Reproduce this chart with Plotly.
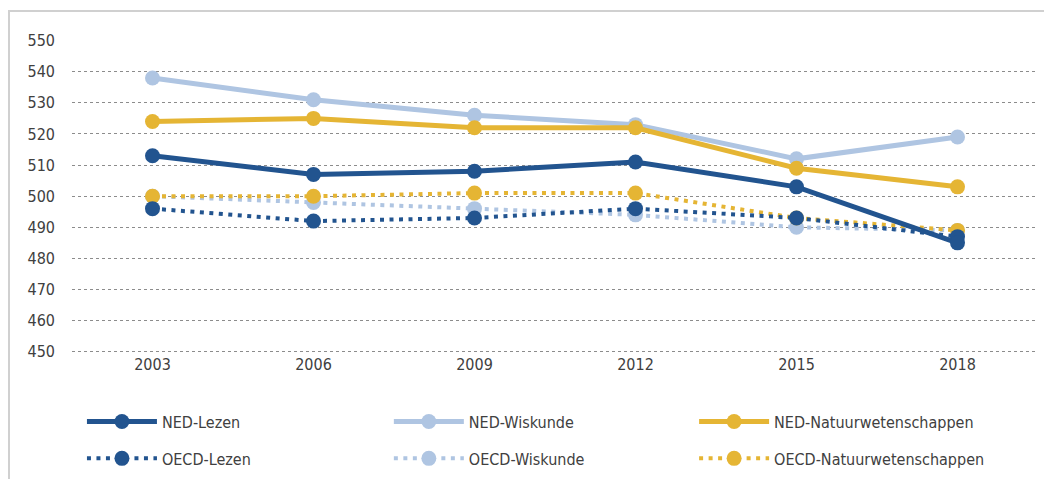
import plotly.graph_objects as go

years = ["2003", "2006", "2009", "2012", "2015", "2018"]
ned_lezen = [513, 507, 508, 511, 503, 485]
ned_wiskunde = [538, 531, 526, 523, 512, 519]
ned_natuur = [524, 525, 522, 522, 509, 503]
oecd_lezen = [496, 492, 493, 496, 493, 487]
oecd_wiskunde = [500, 498, 496, 494, 490, 489]
oecd_natuur = [500, 500, 501, 501, 493, 489]
y_ticks = [450, 460, 470, 480, 490, 500, 510, 520, 530, 540, 550]

DARK = "#22548F"
LIGHT = "#AFC5E2"
GOLD = "#E5B534"
FONT = "DejaVu Sans Condensed"

fig = go.Figure()

series = [
    ("NED-Lezen", ned_lezen, DARK, "solid", "legend"),
    ("NED-Wiskunde", ned_wiskunde, LIGHT, "solid", "legend2"),
    ("NED-Natuurwetenschappen", ned_natuur, GOLD, "solid", "legend3"),
    ("OECD-Lezen", oecd_lezen, DARK, "dot", "legend"),
    ("OECD-Wiskunde", oecd_wiskunde, LIGHT, "dot", "legend2"),
    ("OECD-Natuurwetenschappen", oecd_natuur, GOLD, "dot", "legend3"),
]
order = [4, 5, 3, 1, 2, 0]  # draw dotted first, solid on top
for i in order:
    name, vals, col, style, leg = series[i]
    if style == "solid":
        line = dict(color=col, width=5)
    else:
        line = dict(color=col, width=4, dash="4px,5.5px")
    fig.add_trace(go.Scatter(
        x=years, y=vals, name=name, mode="lines+markers",
        line=line, marker=dict(color=col, size=15),
        legend=leg, legendgroup=name, legendrank=i,
    ))

H = 313.0
W = 966.0
leg_common = dict(orientation="v", y=-0.165, yanchor="top", xanchor="left",
                  itemwidth=70, tracegroupgap=13, bgcolor="rgba(0,0,0,0)",
                  font=dict(family=FONT, size=16, color="#404040"))
fig.update_layout(
    width=1044, height=471,
    margin=dict(l=64, r=14, t=32, b=126, autoexpand=False),
    paper_bgcolor="white", plot_bgcolor="white",
    font=dict(family=FONT, size=16, color="#404040"),
    xaxis=dict(type="category", showgrid=False, zeroline=False, showline=False,
               ticks="", tickfont=dict(size=16), range=[-0.5, 5.5]),
    yaxis=dict(range=[449.6, 550.2], tickvals=y_ticks, showgrid=True,
               gridcolor="#8c8c8c", griddash="dot", gridwidth=1,
               zeroline=False, showline=False, ticks="", ticklabelstandoff=16,
               tickfont=dict(size=16)),
    legend=dict(x=0.0103, **leg_common),
    legend2=dict(x=0.328, **leg_common),
    legend3=dict(x=0.644, **leg_common),
    showlegend=True,
    shapes=[dict(type="rect", xref="paper", yref="paper",
                 x0=-63 / W, x1=1.05, y0=-1.0, y1=1 + 29 / H,
                 line=dict(color="#D0D0D0", width=2), fillcolor="rgba(0,0,0,0)",
                 layer="below")],
)

fig.write_html("out.html")
